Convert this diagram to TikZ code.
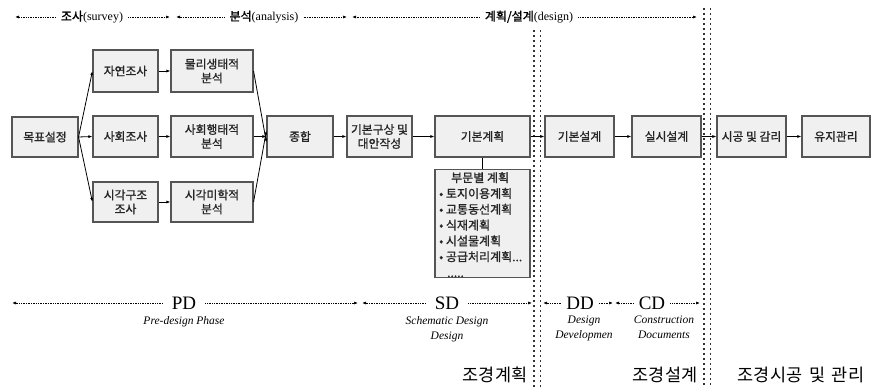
\documentclass[tikz,border=0pt]{standalone}
\usepackage{fontspec}
\setmainfont{Liberation Serif}
\newfontfamily\kr{Noto Sans CJK KR}
\newfontfamily\krb{Noto Sans CJK KR}[FakeBold=1.2]
\usetikzlibrary{arrows.meta}
\definecolor{boxfill}{HTML}{F0F0F0}
\definecolor{boxline}{HTML}{555555}
\tikzset{
  stepbox/.style={draw=boxline, line width=1.1pt, fill=boxfill, inner sep=0pt, align=center, font=\krb\fontsize{11.8}{14}\selectfont, text=black!85},
  conn/.style={line width=0.8pt, -{Latex[length=4pt,width=3pt]}},
  dotarr/.style={line width=0.7pt, densely dotted, -{Latex[length=4pt,width=3pt]}},
  vdash/.style={line width=1.1pt, dash pattern=on 2.5pt off 2.5pt, draw=black!80},
  phase/.style={font=\fontsize{19}{19}\selectfont, inner xsep=9pt, inner ysep=1pt},
  sub/.style={font=\itshape\fontsize{11.5}{15}\selectfont, align=center, inner sep=0pt},
  toplab/.style={font=\fontsize{12}{12}\selectfont, inner xsep=5pt, inner ysep=1pt},
  bottomlab/.style={font=\kr\fontsize{17.5}{17.5}\selectfont, inner sep=0pt}
}
\newcommand{\bx}[6]{\node[stepbox, minimum width=#4-#2, minimum height=#5-#3] (#1) at ({(#2+#4)/2},{(#3+#5)/2}) {#6};}
\begin{document}
\begin{tikzpicture}[x=1pt,y=-1pt]
\useasboundingbox (0,0) rectangle (871,387);
% vertical dashed lines
\coordinate (va1) at (534,30); \coordinate (vb1) at (534,387);
\coordinate (va2) at (540.5,30); \coordinate (vb2) at (540.5,387);
\coordinate (va3) at (704,8); \coordinate (vb3) at (704,387);
\coordinate (va4) at (710.5,8); \coordinate (vb4) at (710.5,387);
\draw[vdash] (va1) -- (vb1);
\draw[vdash] (va2) -- (vb2);
\draw[vdash] (va3) -- (vb3);
\draw[vdash] (va4) -- (vb4);
% boxes
\bx{goal}{12}{117}{78}{157}{목표설정}
\bx{nat}{93}{50}{158}{92}{자연조사}
\bx{soc}{93}{116}{158}{157}{사회조사}
\bx{vis}{93}{182}{158}{222}{시각구조\\조사}
\bx{phy}{171}{50}{253}{92}{물리생태적\\분석}
\bx{beh}{171}{116}{253}{157}{사회행태적\\분석}
\bx{aes}{171}{182}{253}{222}{시각미학적\\분석}
\bx{syn}{267}{116}{333}{157}{종합}
\bx{alt}{347}{116}{412}{157}{기본구상 및\\대안작성}
\bx{plan}{435}{116}{530}{157}{기본계획}
\bx{bd}{545}{116}{614}{157}{기본설계}
\bx{dd}{632}{116}{701}{157}{실시설계}
\bx{con}{717}{116}{786}{157}{시공 및 감리}
\bx{mnt}{802}{116}{870}{157}{유지관리}
\node[stepbox, minimum width=95pt, minimum height=108pt, anchor=north] (sec) at (482.5,169) {};
\node[font=\krb\fontsize{12}{15.8}\selectfont, text=black!85, align=left, anchor=north west, inner sep=0pt] (seclist) at (439,172) {\hspace*{12pt}부문별 계획\\• 토지이용계획\\• 교통동선계획\\• 식재계획\\• 시설물계획\\• 공급처리계획...\\\hspace*{8pt}.....};
% connectors
\draw[conn] (goal.east) -- (nat.west);
\draw[conn] (goal.east) -- (soc.west);
\draw[conn] (goal.east) -- (vis.west);
\draw[conn] (nat) -- (phy);
\draw[conn] (soc) -- (beh);
\draw[conn] (vis) -- (aes);
\draw[conn] (phy.east) -- ([yshift=-6pt]syn.west);
\draw[conn] (beh.east) -- (syn.west);
\draw[conn] (aes.east) -- ([yshift=6pt]syn.west);
\draw[conn] (syn) -- (alt);
\draw[conn] (alt) -- (plan);
\draw[conn] (plan) -- (bd);
\draw[conn] (bd) -- (dd);
\draw[conn] (dd) -- (con);
\draw[conn] (con) -- (mnt);
\draw[line width=0.8pt] (plan.south) -- (sec.north);
% top labels
\node[toplab] (t1) at (92,17) {{\krb 조사}(survey)};
\coordinate (t1l) at (15,17); \coordinate (t1r) at (170,17);
\draw[dotarr] (t1.west) -- (t1l); \draw[dotarr] (t1.east) -- (t1r);
\node[toplab] (t2) at (264,17) {{\krb 분석}(analysis)};
\coordinate (t2l) at (176,17); \coordinate (t2r) at (347,17);
\draw[dotarr] (t2.west) -- (t2l); \draw[dotarr] (t2.east) -- (t2r);
\node[toplab] (t3) at (529,17) {{\krb 계획/설계}(design)};
\coordinate (t3l) at (352,17); \coordinate (t3r) at (697,17);
\draw[dotarr] (t3.west) -- (t3l); \draw[dotarr] (t3.east) -- (t3r);
% bottom phases
\node[phase] (pd) at (184,303) {PD};
\node[sub, anchor=north] (pds) at (184,316) {Pre-design Phase};
\coordinate (pdl) at (12,303); \coordinate (pdr) at (358,303);
\draw[dotarr] (pd.west) -- (pdl); \draw[dotarr] (pd.east) -- (pdr);
\node[phase] (sd) at (447,303) {SD};
\node[sub, anchor=north] (sds) at (447,316) {Schematic Design\\Design};
\coordinate (sdl) at (362,303); \coordinate (sdr) at (532,303);
\draw[dotarr] (sd.west) -- (sdl); \draw[dotarr] (sd.east) -- (sdr);
\node[phase, inner xsep=5pt] (ddn) at (580,303) {DD};
\node[sub, anchor=north] (dds) at (584,316) {Design\\Developmen};
\coordinate (ddl) at (543,303); \coordinate (ddr) at (613,303);
\draw[dotarr] (ddn.west) -- (ddl); \draw[dotarr] (ddn.east) -- (ddr);
\node[phase, inner xsep=5pt] (cd) at (652,303) {CD};
\node[sub, anchor=north] (cds) at (664,316) {Construction\\Documents};
\coordinate (cdl) at (615,303); \coordinate (cdr) at (700,303);
\draw[dotarr] (cd.west) -- (cdl); \draw[dotarr] (cd.east) -- (cdr);
% bottom labels
\node[bottomlab] (b1) at (495,375) {조경계획};
\node[bottomlab] (b2) at (665,375) {조경설계};
\node[bottomlab] (b3) at (801,375) {조경시공\, 및\, 관리};
\end{tikzpicture}
\end{document}
